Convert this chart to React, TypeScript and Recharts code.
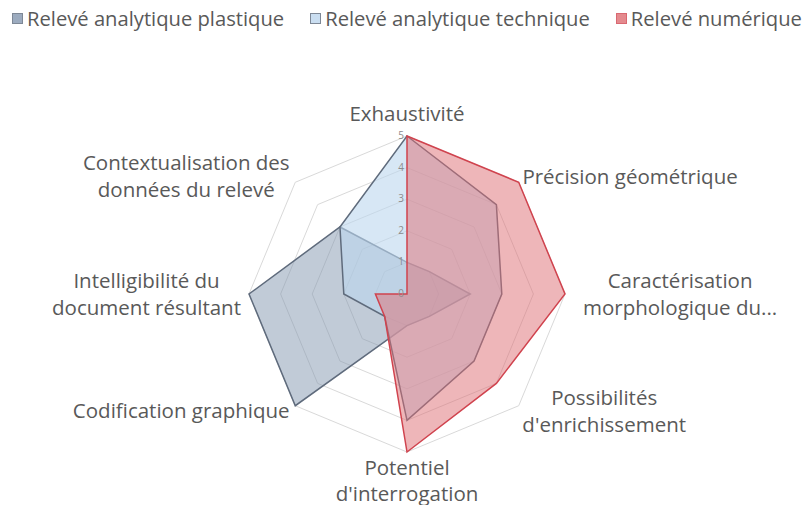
import React from 'react';
import {
  RadarChart,
  Radar,
  PolarGrid,
  PolarAngleAxis,
  PolarRadiusAxis,
  Legend,
} from 'recharts';

const criteria = [
  'Exhaustivité',
  'Précision géométrique',
  'Caractérisation\nmorphologique du...',
  "Possibilités\nd'enrichissement",
  "Potentiel\nd'interrogation",
  'Codification graphique',
  'Intelligibilité du\ndocument résultant',
  'Contextualisation des\ndonnées du relevé',
];

const plastique = [1, 1, 2, 1, 1, 5, 5, 3];
const technique = [5, 4, 3, 3, 4, 1, 2, 3];
const numerique = [5, 5, 5, 4, 5, 1, 1, 0];

const radiusTicks = [0, 1, 2, 3, 4, 5];

const seriesInfo = [
  { key: 'plastique', name: 'Relevé analytique plastique', fill: '#8497b0', stroke: '#5f6b7c', opacity: 0.5 },
  { key: 'technique', name: 'Relevé analytique technique', fill: '#bdd7ee', stroke: '#5f6b7c', opacity: 0.6 },
  { key: 'numerique', name: 'Relevé numérique', fill: '#de6e73', stroke: '#d0434e', opacity: 0.5 },
];

const data = criteria.map((c, i) => ({
  criterion: c,
  plastique: plastique[i],
  technique: technique[i],
  numerique: numerique[i],
}));

const FONT = '"Open Sans", sans-serif';
const LABEL_SIZE = 20.5;
const CX = 407;
const CY = 294;

let ctx: CanvasRenderingContext2D | null = null;
function measure(s: string) {
  if (!ctx) ctx = document.createElement('canvas').getContext('2d');
  if (!ctx) return s.length * LABEL_SIZE * 0.5;
  ctx.font = `${LABEL_SIZE}px "Open Sans"`;
  return ctx.measureText(s).width;
}

function AngleTick(props: any) {
  const { x, y, textAnchor, payload } = props;
  const lines = String(payload.value).split('\n');
  const w = Math.max(...lines.map(measure));
  let bx = x;
  if (textAnchor === 'start') bx = x + w / 2 + (Math.abs(y - CY) < 5 ? 10 : -2);
  else if (textAnchor === 'end') bx = x - w / 2;
  let lineH = 27;
  let first = 0;
  if (y < CY - 150) first = y - 7 - (lines.length - 1) * lineH;
  else if (y > CY + 150) {
    lineH = 26;
    first = y + 15;
  } else first = y - ((lines.length - 1) * lineH) / 2 + 7;
  return (
    <text textAnchor="middle" fill="#595959" fontSize={LABEL_SIZE} fontFamily={FONT}>
      {lines.map((l, i) => (
        <tspan key={i} x={bx} y={first + i * lineH}>
          {l}
        </tspan>
      ))}
    </text>
  );
}

function RadiusTick(props: any) {
  const { x, y, payload } = props;
  return (
    <text x={x - 3} y={y + 3} textAnchor="end" fill="#8c8c8c" fontSize={10} fontFamily={FONT}>
      {payload.value}
    </text>
  );
}

function LegendContent() {
  return (
    <div style={{ display: 'flex', fontFamily: FONT, fontSize: 20.2, color: '#595959', whiteSpace: 'nowrap' }}>
      {seriesInfo.map((s) => (
        <div key={s.key} style={{ display: 'flex', alignItems: 'center', marginRight: 26 }}>
          <span
            style={{
              width: 9,
              height: 9,
              background: s.fill,
              opacity: 0.8,
              border: `1px solid ${s.stroke}`,
              marginRight: 4,
              display: 'inline-block',
            }}
          />
          {s.name}
        </div>
      ))}
    </div>
  );
}

export default function App() {
  return (
    <div style={{ margin: -8, width: 812, height: 513, background: '#fff', overflow: 'hidden' }}>
      <RadarChart width={812} height={513} data={data} cx={CX} cy={CY} outerRadius={158}>
        <Legend
          verticalAlign="top"
          align="left"
          content={<LegendContent />}
          wrapperStyle={{ top: 4, left: 12, width: 800 }}
        />
        <PolarGrid gridType="polygon" radialLines={false} stroke="#d9d9d9" />
        <PolarAngleAxis dataKey="criterion" tick={<AngleTick />} tickLine={false} axisLine={false} />
        <PolarRadiusAxis
          angle={90}
          domain={[0, 5]}
          ticks={radiusTicks as any}
          tickCount={6}
          axisLine={false}
          tick={<RadiusTick />}
        />
        {seriesInfo.map((s) => (
          <Radar
            key={s.key}
            name={s.name}
            dataKey={s.key}
            fill={s.fill}
            fillOpacity={s.opacity}
            stroke={s.stroke}
            strokeWidth={1.5}
            isAnimationActive={false}
          />
        ))}
      </RadarChart>
    </div>
  );
}
